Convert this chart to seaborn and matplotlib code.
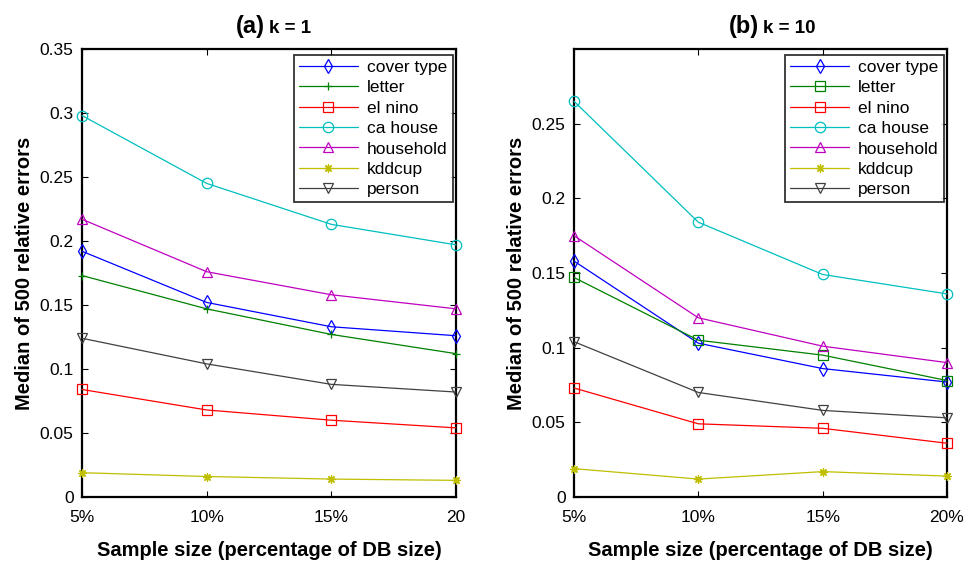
import matplotlib
matplotlib.use("Agg")
import matplotlib.pyplot as plt
import seaborn as sns
import pandas as pd

sns.set_theme(style="white")
plt.rcParams['font.family'] = ['Liberation Sans', 'DejaVu Sans']
plt.rcParams['text.color'] = 'black'
plt.rcParams['axes.labelcolor'] = 'black'
plt.rcParams['xtick.color'] = 'black'
plt.rcParams['ytick.color'] = 'black'

x_vals = [5, 10, 15, 20]
series = ["cover type", "letter", "el nino", "ca house", "household", "kddcup", "person"]

# panel (a) k = 1
a_cover = [0.192, 0.152, 0.133, 0.126]
a_letter = [0.173, 0.147, 0.127, 0.112]
a_elnino = [0.084, 0.068, 0.060, 0.054]
a_cahouse = [0.298, 0.245, 0.213, 0.197]
a_household = [0.217, 0.176, 0.158, 0.147]
a_kddcup = [0.019, 0.016, 0.014, 0.013]
a_person = [0.124, 0.104, 0.088, 0.082]

# panel (b) k = 10
b_cover = [0.158, 0.103, 0.086, 0.077]
b_letter = [0.147, 0.105, 0.095, 0.078]
b_elnino = [0.073, 0.049, 0.046, 0.036]
b_cahouse = [0.265, 0.184, 0.149, 0.136]
b_household = [0.175, 0.120, 0.101, 0.090]
b_kddcup = [0.019, 0.012, 0.017, 0.014]
b_person = [0.104, 0.070, 0.058, 0.053]

a_xticklabels = ["5%", "10%", "15%", "20"]
b_xticklabels = ["5%", "10%", "15%", "20%"]
a_yticks = [0, 0.05, 0.1, 0.15, 0.2, 0.25, 0.3, 0.35]
a_yticklabels = ["0", "0.05", "0.1", "0.15", "0.2", "0.25", "0.3", "0.35"]
b_yticks = [0, 0.05, 0.1, 0.15, 0.2, 0.25]
b_yticklabels = ["0", "0.05", "0.1", "0.15", "0.2", "0.25"]

colors = ["#0000ff", "#008000", "#ff0000", "#00bfbf", "#bf00bf", "#bfbf00", "#404040"]
ASTER = (8, 2, 0)
a_markers = ["d", "+", "s", "o", "^", ASTER, "v"]
b_markers = ["d", "s", "s", "o", "^", ASTER, "v"]

fig = plt.figure(figsize=(9.79, 5.61), dpi=100)
axA = fig.add_axes([82/979, 64/561, 374/979, 448/561])
axB = fig.add_axes([574/979, 64/561, 373/979, 448/561])

def draw(ax, data, markers, ylim, yticks, yticklabels, xticklabels, tag, ktxt, split):
    for name, vals, c, m in zip(series, data, colors, markers):
        df = pd.DataFrame({"x": x_vals, "y": vals})
        open_m = m not in ("+", ASTER)
        sns.lineplot(data=df, x="x", y="y", ax=ax, color=c, marker=m,
                     markersize=7.5 if open_m else 6,
                     markerfacecolor="none" if open_m else c,
                     markeredgecolor=c, markeredgewidth=0.9, linewidth=0.9,
                     label=name, clip_on=False, zorder=3)
    ax.set_xlim(5, 20)
    ax.set_ylim(*ylim)
    ax.set_xticks(x_vals)
    ax.set_xticklabels(xticklabels, fontsize=12.5)
    ax.set_yticks(yticks)
    ax.set_yticklabels(yticklabels, fontsize=12.5)
    ax.tick_params(direction="in", top=True, right=True, length=4, width=0.8,
                   colors="black", bottom=True, left=True)
    ax.tick_params(axis="x", pad=9)
    ax.tick_params(axis="y", pad=6)
    for s in ax.spines.values():
        s.set_color("black")
        s.set_linewidth(1.6)
        s.set_visible(True)
    ax.set_xlabel("Sample size (percentage of DB size)", fontsize=14.5, fontweight="bold", labelpad=12)
    ax.set_ylabel("Median of 500 relative errors", fontsize=14.5, fontweight="bold", labelpad=4)
    ax.text(split, 1.035, tag, transform=ax.transAxes, ha="right", va="baseline",
            fontsize=17, fontweight="bold")
    ax.text(split + 0.012, 1.035, ktxt, transform=ax.transAxes, ha="left", va="baseline",
            fontsize=13.5, fontweight="bold")
    leg = ax.legend(loc="upper right", bbox_to_anchor=(1.0, 0.995), fontsize=12.5,
                    frameon=True, fancybox=False, edgecolor="black",
                    borderpad=0.3, labelspacing=0.3, handlelength=3.4,
                    handletextpad=0.5, borderaxespad=0.2)
    leg.get_frame().set_linewidth(1.3)
    leg.set_zorder(5)

draw(axA, [a_cover, a_letter, a_elnino, a_cahouse, a_household, a_kddcup, a_person],
     a_markers, (0, 0.35), a_yticks, a_yticklabels, a_xticklabels, "(a)", "k = 1", 0.489)
draw(axB, [b_cover, b_letter, b_elnino, b_cahouse, b_household, b_kddcup, b_person],
     b_markers, (0, 0.3), b_yticks, b_yticklabels, b_xticklabels, "(b)", "k = 10", 0.496)

fig.savefig("out.png", dpi=100)
